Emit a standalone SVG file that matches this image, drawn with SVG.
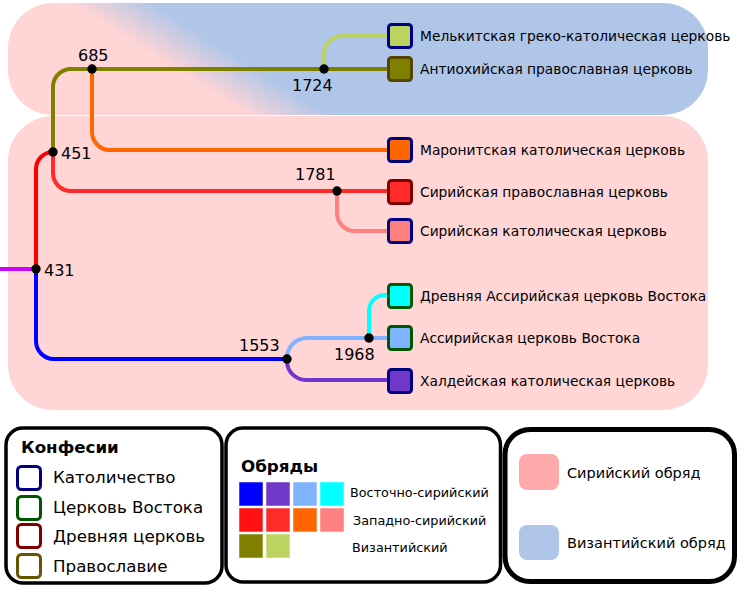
<svg xmlns="http://www.w3.org/2000/svg" width="744" height="599" viewBox="0 0 744 599">
<defs>
<linearGradient id="rite" gradientUnits="userSpaceOnUse" x1="188" y1="78" x2="212" y2="40">
<stop offset="0" stop-color="#ffd5d5"/>
<stop offset="1" stop-color="#afc6e9"/>
</linearGradient>
<style>
.ln{fill:none;stroke-width:4}
.dot{fill:#000}
.yr{font-family:"DejaVu Sans",sans-serif;font-size:16px;fill:#000}
.lbl{font-family:"DejaVu Sans",sans-serif;font-size:13.8px;fill:#000}
.box{stroke-width:3}
.frame{fill:#fff;stroke:#000;stroke-width:3.5}
.lg{font-family:"DejaVu Sans",sans-serif;font-size:16.7px;fill:#000}
.ttl{font-family:"DejaVu Sans",sans-serif;font-size:16.7px;font-weight:bold;fill:#000}
.sm{font-family:"DejaVu Sans",sans-serif;font-size:12.8px;fill:#000}
.rg{font-family:"DejaVu Sans",sans-serif;font-size:14.5px;fill:#000}
.sw{stroke:#fff;stroke-opacity:0.5;stroke-width:1}
</style>
</defs>
<rect width="744" height="599" fill="#fff"/>
<g id="regions">
<rect x="8" y="3" width="700" height="112" rx="45" fill="url(#rite)"/>
<rect x="8" y="116" width="700" height="294" rx="45" fill="#ffd5d5"/>
</g>
<g id="connectors">
<path class="ln" stroke="#cc00ff" d="M0,269 H36"/>
<path class="ln" stroke="#ff0000" d="M36,269 V169 A17,17 0 0 1 53,152"/>
<path class="ln" stroke="#0000ff" d="M36,269 V341 A18,18 0 0 0 54,359 H287"/>
<path class="ln" stroke="#808000" d="M53,152 V87 A18,18 0 0 1 71,69 H388"/>
<path class="ln" stroke="#bcd35f" d="M324,69 V54 A18,18 0 0 1 342,36 H388"/>
<path class="ln" stroke="#ff6600" d="M92,69 V132 A18,18 0 0 0 110,150 H388"/>
<path class="ln" stroke="#ff2a2a" d="M53,152 V173 A18,18 0 0 0 71,191 H388"/>
<path class="ln" stroke="#ff8080" d="M337,191 V213 A18,18 0 0 0 355,231 H388"/>
<path class="ln" stroke="#80b3ff" d="M287,359 A20,20 0 0 1 307,338 H388"/>
<path class="ln" stroke="#7137c8" d="M287,359 V361 A19,19 0 0 0 306,380 H388"/>
<path class="ln" stroke="#00ffff" d="M369,338 V311 A16,16 0 0 1 385,295 H388"/>
</g>
<g id="events">
<circle class="dot" cx="36" cy="269" r="4.7"/><text class="yr" x="44" y="276">431</text>
<circle class="dot" cx="53" cy="152" r="4.7"/><text class="yr" x="61" y="159">451</text>
<circle class="dot" cx="92" cy="69" r="4.7"/><text class="yr" x="78" y="61">685</text>
<circle class="dot" cx="324" cy="69" r="4.7"/><text class="yr" x="292" y="91">1724</text>
<circle class="dot" cx="337" cy="191" r="4.7"/><text class="yr" x="295" y="180">1781</text>
<circle class="dot" cx="287" cy="359" r="4.7"/><text class="yr" x="239" y="351">1553</text>
<circle class="dot" cx="369" cy="338" r="4.7"/><text class="yr" x="334" y="360">1968</text>
</g>
<g id="n-melkite"><rect class="box" x="388.5" y="24.5" width="23" height="23" rx="3" fill="#bcd35f" stroke="#000080"/><text class="lbl" x="420" y="41">Мелькитская греко-католическая церковь</text></g>
<g id="n-antioch"><rect class="box" x="388.5" y="57.5" width="23" height="23" rx="3" fill="#808000" stroke="#554400"/><text class="lbl" x="420" y="74">Антиохийская православная церковь</text></g>
<g id="n-maronite"><rect class="box" x="388.5" y="138.5" width="23" height="23" rx="3" fill="#ff6600" stroke="#000080"/><text class="lbl" x="420" y="155">Маронитская католическая церковь</text></g>
<g id="n-syrorth"><rect class="box" x="388.5" y="180.5" width="23" height="23" rx="3" fill="#ff2a2a" stroke="#800000"/><text class="lbl" x="420" y="197">Сирийская православная церковь</text></g>
<g id="n-syrcath"><rect class="box" x="388.5" y="219.5" width="23" height="23" rx="3" fill="#ff8080" stroke="#000080"/><text class="lbl" x="420" y="236">Сирийская католическая церковь</text></g>
<g id="n-ancient"><rect class="box" x="388.5" y="284.5" width="23" height="23" rx="3" fill="#00ffff" stroke="#005500"/><text class="lbl" x="420" y="301">Древняя Ассирийская церковь Востока</text></g>
<g id="n-assyrian"><rect class="box" x="388.5" y="326.5" width="23" height="23" rx="3" fill="#80b3ff" stroke="#005500"/><text class="lbl" x="420" y="343">Ассирийская церковь Востока</text></g>
<g id="n-chaldean"><rect class="box" x="388.5" y="369.5" width="23" height="23" rx="3" fill="#7137c8" stroke="#000080"/><text class="lbl" x="420" y="386">Халдейская католическая церковь</text></g>
<g id="legend-confessions">
<rect class="frame" x="6" y="428" width="216" height="155" rx="17"/>
<text class="ttl" x="21" y="453">Конфесии</text>
<rect class="box" x="17.5" y="466.5" width="23" height="23" rx="4" fill="#fff" stroke="#000080"/><text class="lg" x="53" y="483">Католичество</text>
<rect class="box" x="17.5" y="496.5" width="23" height="23" rx="4" fill="#fff" stroke="#005500"/><text class="lg" x="53" y="513">Церковь Востока</text>
<rect class="box" x="17.5" y="524.5" width="23" height="23" rx="4" fill="#fff" stroke="#800000"/><text class="lg" x="53" y="542">Древняя церковь</text>
<rect class="box" x="17.5" y="554.5" width="23" height="23" rx="4" fill="#fff" stroke="#665500"/><text class="lg" x="53" y="572">Православие</text>
</g>
<g id="legend-rites">
<rect class="frame" x="226" y="428" width="274.5" height="154" rx="17"/>
<text class="ttl" x="241" y="472">Обряды</text>
<rect class="sw" x="239" y="482" width="24" height="24" fill="#0000ff"/>
<rect class="sw" x="266" y="482" width="24" height="24" fill="#7137c8"/>
<rect class="sw" x="293" y="482" width="24" height="24" fill="#80b3ff"/>
<rect class="sw" x="320" y="482" width="24" height="24" fill="#00ffff"/>
<rect class="sw" x="239" y="508" width="24" height="24" fill="#ff1111"/>
<rect class="sw" x="266" y="508" width="24" height="24" fill="#ff2a2a"/>
<rect class="sw" x="293" y="508" width="24" height="24" fill="#ff6600"/>
<rect class="sw" x="320" y="508" width="24" height="24" fill="#ff8080"/>
<rect class="sw" x="239" y="534" width="24" height="24" fill="#808000"/>
<rect class="sw" x="266" y="534" width="24" height="24" fill="#bcd35f"/>
<text class="sm" x="350" y="497">Восточно-сирийский</text>
<text class="sm" x="353" y="525">Западно-сирийский</text>
<text class="sm" x="352" y="552">Византийский</text>
</g>
<g id="legend-regions">
<rect x="505" y="429.5" width="229.5" height="152" rx="25" fill="#fff" stroke="#000" stroke-width="5"/>
<rect x="519" y="454" width="40" height="36" rx="8" fill="#ffaaaa"/>
<text class="rg" x="567" y="478">Сирийский обряд</text>
<rect x="519" y="525" width="40" height="35" rx="8" fill="#afc6e9"/>
<text class="rg" x="567" y="548">Византийский обряд</text>
</g>
</svg>
